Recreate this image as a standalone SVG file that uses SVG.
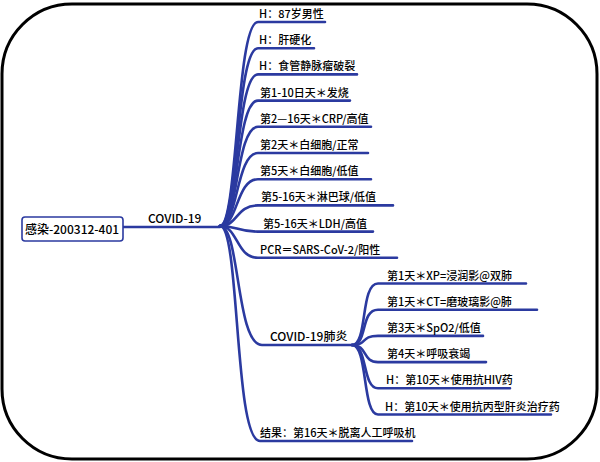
<svg xmlns="http://www.w3.org/2000/svg" width="600" height="462" viewBox="0 0 600 462">
<style>
.b{fill:none;stroke:#2b3aa0;stroke-width:2.6;stroke-linecap:round}
.t{font-family:"Noto Sans CJK SC","Noto Sans",sans-serif;font-size:11px;font-weight:500;fill:#000}
.m{font-family:"Noto Sans CJK SC","Noto Sans",sans-serif;font-size:12px;font-weight:500;fill:#000}
</style>
<rect x="2" y="4" width="595" height="455" rx="70" ry="70" fill="#fff" stroke="#000" stroke-width="3"/>
<g id="connectors">
<path class="b" d="M123,227 H220"/>
<path class="b" d="M220,226 C238,226 236,22 258,22 H325"/>
<path class="b" d="M220,226 C238,226 236,48.2 258,48.2 H314"/>
<path class="b" d="M220,226 C238,226 236,74.4 258,74.4 H357"/>
<path class="b" d="M220,226 C238,226 236,100.6 258,100.6 H350"/>
<path class="b" d="M220,226 C238,226 236,126.8 258,126.8 H371"/>
<path class="b" d="M220,226 C238,226 236,153 258,153 H368"/>
<path class="b" d="M220,226 C238,226 236,179.2 258,179.2 H371"/>
<path class="b" d="M220,226 C238,226 236,205.4 258,205.4 H393"/>
<path class="b" d="M220,226 C238,226 236,231.6 258,231.6 H373"/>
<path class="b" d="M220,226 C238,226 236,257.8 258,257.8 H397"/>
<path class="b" d="M220,226 C240,226 236,345 262,345 H352"/>
<path class="b" d="M220,226 C240,226 234,441 260,441 H412"/>
<path class="b" d="M352,345 C368,345 360,283.5 378,283.5 H526"/>
<path class="b" d="M352,345 C368,345 360,309.7 378,309.7 H537"/>
<path class="b" d="M352,345 C368,345 360,335.9 378,335.9 H483"/>
<path class="b" d="M352,345 C368,345 362,362.1 378,362.1 H486"/>
<path class="b" d="M352,345 C368,345 362,388.3 378,388.3 H510"/>
<path class="b" d="M352,345 C368,345 362,414.5 378,414.5 H551"/>
</g>
<g id="root">
<rect x="22" y="217" width="101" height="24" rx="3" fill="#fff" stroke="#2b3aa0" stroke-width="1.6"/>
<text class="m" x="25" y="234">感染-200312-401</text>
</g>
<g id="covid19"><text class="m" x="148" y="223">COVID-19</text></g>
<g id="n1"><text class="t" x="259" y="18">H：87岁男性</text></g>
<g id="n2"><text class="t" x="259" y="44.2">H：肝硬化</text></g>
<g id="n3"><text class="t" x="259" y="70.4">H：食管静脉瘤破裂</text></g>
<g id="n4"><text class="t" x="260" y="96.6">第1-10日天＊发烧</text></g>
<g id="n5"><text class="t" x="260" y="122.8">第2—16天＊CRP/高值</text></g>
<g id="n6"><text class="t" x="260" y="149">第2天＊白细胞/正常</text></g>
<g id="n7"><text class="t" x="260" y="175.2">第5天＊白细胞/低值</text></g>
<g id="n8"><text class="t" x="261" y="201.4">第5-16天＊淋巴球/低值</text></g>
<g id="n9"><text class="t" x="263" y="227.6">第5-16天＊LDH/高值</text></g>
<g id="n10"><text class="t" x="260" y="253.8">PCR＝SARS-CoV-2/阳性</text></g>
<g id="pneumonia"><text class="m" x="270" y="341">COVID-19肺炎</text></g>
<g id="p1"><text class="t" x="387" y="279.5">第1天＊XP=浸润影@双肺</text></g>
<g id="p2"><text class="t" x="387" y="305.7">第1天＊CT=磨玻璃影@肺</text></g>
<g id="p3"><text class="t" x="387" y="331.9">第3天＊SpO2/低值</text></g>
<g id="p4"><text class="t" x="387" y="358.1">第4天＊呼吸衰竭</text></g>
<g id="p5"><text class="t" x="386" y="384.3">H：第10天＊使用抗HIV药</text></g>
<g id="p6"><text class="t" x="385" y="410.5">H：第10天＊使用抗丙型肝炎治疗药</text></g>
<g id="result"><text class="t" x="260" y="437">结果：第16天＊脱离人工呼吸机</text></g>
</svg>
